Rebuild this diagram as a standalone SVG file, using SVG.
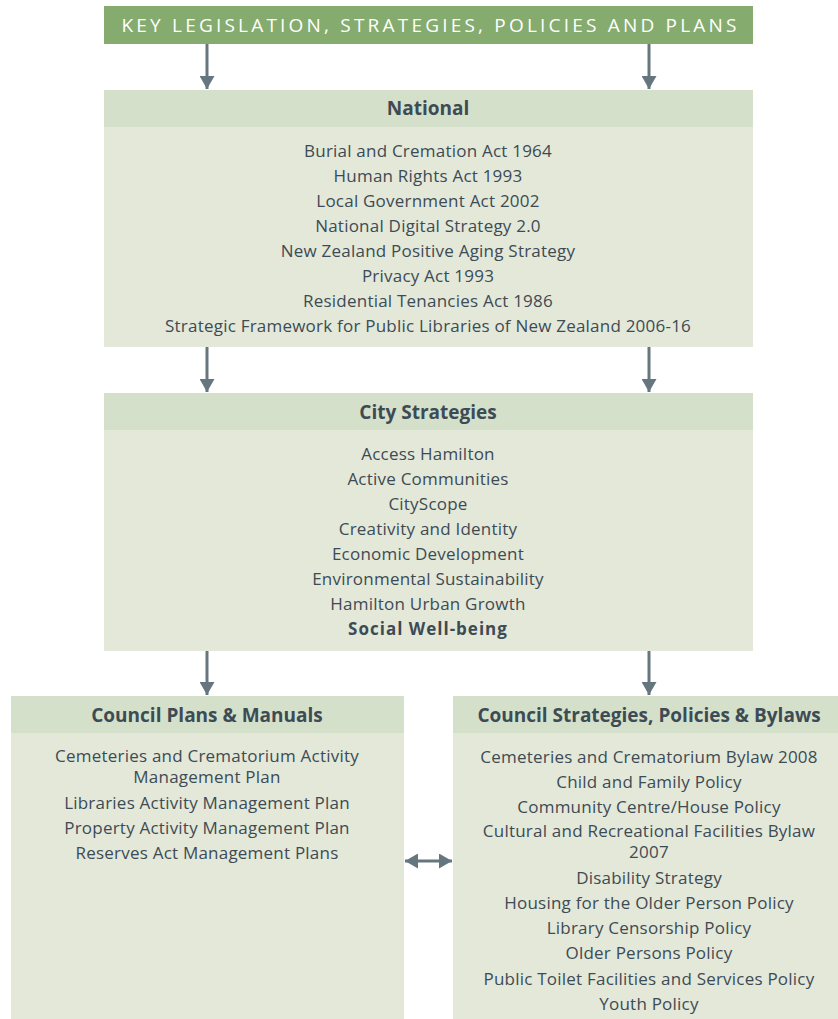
<svg xmlns="http://www.w3.org/2000/svg" width="838" height="1019" viewBox="0 0 838 1019">
<style>
.hdr{fill:#d5e0cb}
.body{fill:#e3e8d9}
.ht{font-family:"Open Sans","Liberation Sans",sans-serif;font-size:19px;font-weight:bold;fill:#3d4b55;text-anchor:middle}
.t{font-family:"Open Sans","Liberation Sans",sans-serif;font-size:17px;letter-spacing:0.22px;fill:#3d4b55;text-anchor:middle}
.b{font-weight:bold;letter-spacing:1px}
.arr{stroke:#66767f;stroke-width:3;fill:none}
</style>
<defs>
<marker id="ah" markerWidth="13" markerHeight="15" refX="13" refY="7.5" orient="auto" markerUnits="userSpaceOnUse">
<path d="M0,0 L13,7.5 L0,15 Z" fill="#66767f"/>
</marker>
<marker id="ah2" markerWidth="13" markerHeight="15" refX="0" refY="7.5" orient="auto" markerUnits="userSpaceOnUse">
<path d="M13,0 L0,7.5 L13,15 Z" fill="#66767f"/>
</marker>
</defs>
<rect width="838" height="1019" fill="#ffffff"/>
<g id="title">
<rect x="104" y="6" width="649" height="38" fill="#85ab6e"/>
<text x="429" y="32" font-family="'Open Sans','Liberation Sans',sans-serif" font-size="19" fill="#ffffff" text-anchor="middle" textLength="615" lengthAdjust="spacing">KEY LEGISLATION, STRATEGIES, POLICIES AND PLANS</text>
</g>
<g id="national">
<rect class="body" x="104" y="90" width="649" height="257"/>
<rect class="hdr" x="104" y="90" width="649" height="37"/>
<text class="ht" x="428" y="115">National</text>
<text class="t" x="428" y="157">Burial and Cremation Act 1964</text>
<text class="t" x="428" y="182">Human Rights Act 1993</text>
<text class="t" x="428" y="207">Local Government Act 2002</text>
<text class="t" x="428" y="232">National Digital Strategy 2.0</text>
<text class="t" x="428" y="257">New Zealand Positive Aging Strategy</text>
<text class="t" x="428" y="282">Privacy Act 1993</text>
<text class="t" x="428" y="307">Residential Tenancies Act 1986</text>
<text class="t" x="428" y="332">Strategic Framework for Public Libraries of New Zealand 2006-16</text>
</g>
<g id="city">
<rect class="body" x="104" y="393" width="649" height="258"/>
<rect class="hdr" x="104" y="393" width="649" height="37"/>
<text class="ht" x="428" y="419">City Strategies</text>
<text class="t" x="428" y="460">Access Hamilton</text>
<text class="t" x="428" y="485">Active Communities</text>
<text class="t" x="428" y="510">CityScope</text>
<text class="t" x="428" y="535">Creativity and Identity</text>
<text class="t" x="428" y="560">Economic Development</text>
<text class="t" x="428" y="585">Environmental Sustainability</text>
<text class="t" x="428" y="610">Hamilton Urban Growth</text>
<text class="t b" x="428" y="635">Social Well-being</text>
</g>
<g id="plans">
<rect class="body" x="11" y="696" width="393" height="323"/>
<rect class="hdr" x="11" y="696" width="393" height="37"/>
<text class="ht" x="207" y="722">Council Plans &amp; Manuals</text>
<text class="t" x="207" y="762">Cemeteries and Crematorium Activity</text>
<text class="t" x="207" y="783">Management Plan</text>
<text class="t" x="207" y="809">Libraries Activity Management Plan</text>
<text class="t" x="207" y="834">Property Activity Management Plan</text>
<text class="t" x="207" y="859">Reserves Act Management Plans</text>
</g>
<g id="policies">
<rect class="body" x="453" y="696" width="385" height="323"/>
<rect class="hdr" x="453" y="696" width="385" height="37"/>
<text class="ht" x="649" y="722">Council Strategies, Policies &amp; Bylaws</text>
<text class="t" x="649" y="763">Cemeteries and Crematorium Bylaw 2008</text>
<text class="t" x="649" y="788">Child and Family Policy</text>
<text class="t" x="649" y="813">Community Centre/House Policy</text>
<text class="t" x="649" y="837">Cultural and Recreational Facilities Bylaw</text>
<text class="t" x="649" y="858">2007</text>
<text class="t" x="649" y="884">Disability Strategy</text>
<text class="t" x="649" y="909">Housing for the Older Person Policy</text>
<text class="t" x="649" y="934">Library Censorship Policy</text>
<text class="t" x="649" y="959">Older Persons Policy</text>
<text class="t" x="649" y="985">Public Toilet Facilities and Services Policy</text>
<text class="t" x="649" y="1010">Youth Policy</text>
</g>
<g id="connectors">
<line class="arr" x1="207" y1="44" x2="207" y2="89" marker-end="url(#ah)"/>
<line class="arr" x1="649" y1="44" x2="649" y2="89" marker-end="url(#ah)"/>
<line class="arr" x1="207" y1="347" x2="207" y2="392" marker-end="url(#ah)"/>
<line class="arr" x1="649" y1="347" x2="649" y2="392" marker-end="url(#ah)"/>
<line class="arr" x1="207" y1="651" x2="207" y2="695" marker-end="url(#ah)"/>
<line class="arr" x1="649" y1="651" x2="649" y2="695" marker-end="url(#ah)"/>
<line class="arr" x1="405" y1="861" x2="452" y2="861" marker-start="url(#ah2)" marker-end="url(#ah)"/>
</g>
</svg>
